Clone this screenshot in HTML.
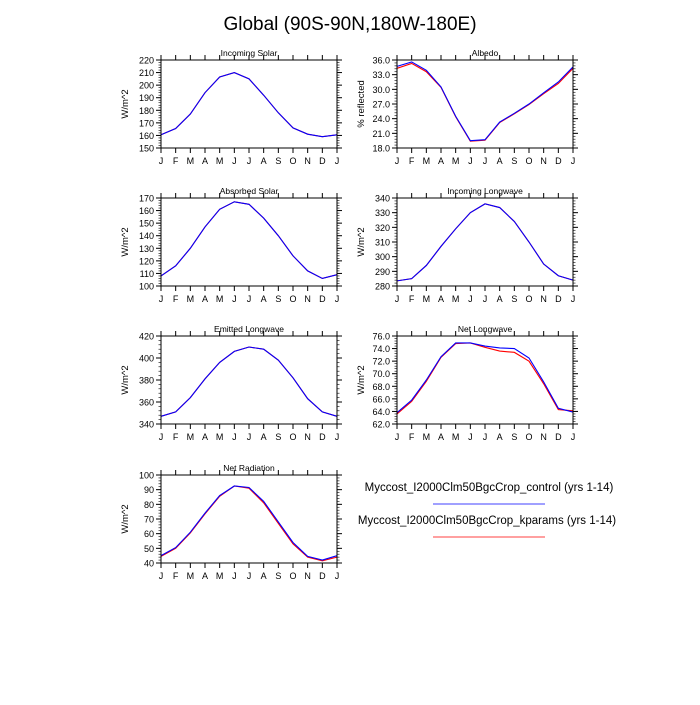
<!DOCTYPE html>
<html><head><style>body{margin:0;background:#fff}svg{font-family:"Liberation Sans",sans-serif}</style></head>
<body>
<svg id="s" width="700" height="700" xmlns="http://www.w3.org/2000/svg">
<rect width="700" height="700" fill="#fff"/>
<text x="350" y="30" font-size="19" text-anchor="middle">Global (90S-90N,180W-180E)</text>
<text x="489" y="491" font-size="11.5" text-anchor="middle">Myccost_I2000Clm50BgcCrop_control (yrs 1-14)</text>
<line x1="433" x2="545" y1="504" y2="504" stroke="#00f" stroke-width="0.8"/>
<text x="487" y="524" font-size="11.5" text-anchor="middle">Myccost_I2000Clm50BgcCrop_kparams (yrs 1-14)</text>
<line x1="433" x2="545" y1="537" y2="537" stroke="#f00" stroke-width="0.8"/>
</svg>
<script>
const P=[
{x:161,y:60,t:"Incoming Solar",yl:"W/m^2",min:150,max:220,step:10,minor:2,dec:0,
 b:[160.5,165.5,177,194,206.5,210,205,192,178,166,161,159,160.5]},
{x:397,y:60,t:"Albedo",yl:"% reflected",min:18,max:36,step:3,minor:0.6,dec:1,
 b:[34.7,35.6,33.9,30.5,24.5,19.5,19.7,23.3,25.1,27,29.3,31.5,34.6],
 r:[34.3,35.3,33.6,30.4,24.4,19.4,19.6,23.2,25,26.9,29.1,31.2,34.3]},
{x:161,y:198,t:"Absorbed Solar",yl:"W/m^2",min:100,max:170,step:10,minor:2,dec:0,
 b:[108,116,130,147,161,167,165,154,140,124,112,106,109]},
{x:397,y:198,t:"Incoming Longwave",yl:"W/m^2",min:280,max:340,step:10,minor:2,dec:0,
 b:[283.5,285,294,307,319,330,336,333.5,324,310,295,287,284]},
{x:161,y:336,t:"Emitted Longwave",yl:"W/m^2",min:340,max:420,step:20,minor:4,dec:0,
 b:[347,351,364,381,396,406,410,408,398,382,363,351,347]},
{x:397,y:336,t:"Net Longwave",yl:"W/m^2",min:62,max:76,step:2,minor:0.4,dec:1,
 b:[63.8,65.8,69,72.7,74.9,74.9,74.4,74.1,74,72.5,68.7,64.5,63.9],
 r:[63.6,65.6,68.8,72.6,74.8,74.9,74.2,73.6,73.4,72,68.4,64.3,64.1]},
{x:161,y:475,t:"Net Radiation",yl:"W/m^2",min:40,max:100,step:10,minor:2,dec:0,
 b:[45,50.5,61,74,86,92.5,91.5,82,68,54,44.5,42,45],
 r:[44.5,50,60.5,73.5,85.5,92.5,91,81,67,53,44,41.5,44]}];
const W=176,H=88,M="JFMAMJJASONDJ";let s="";
for(const p of P){
 const X=i=>p.x+i*W/12,Y=v=>p.y+H-(v-p.min)/(p.max-p.min)*H;
 s+=`<text x="${p.x+W/2}" y="${p.y-4}" font-size="8.5" text-anchor="middle">${p.t}</text>`;
 s+=`<text transform="translate(${p.x-33},${p.y+H/2}) rotate(-90)" font-size="9.5" text-anchor="middle">${p.yl}</text>`;
 for(let i=0;i<=12;i++){const x=X(i);
  s+=`<line x1="${x}" x2="${x}" y1="${p.y-5}" y2="${p.y}" stroke="#000"/><line x1="${x}" x2="${x}" y1="${p.y+H}" y2="${p.y+H+5}" stroke="#000"/>`;
  s+=`<text x="${x}" y="${p.y+H+16}" font-size="9" text-anchor="middle">${M[i]}</text>`;}
 for(let v=p.min;v<=p.max+1e-6;v+=p.minor){const y=Y(v);
  s+=`<line x1="${p.x-2.5}" x2="${p.x}" y1="${y}" y2="${y}" stroke="#000" stroke-width="0.6"/><line x1="${p.x+W}" x2="${p.x+W+2.5}" y1="${y}" y2="${y}" stroke="#000" stroke-width="0.6"/>`;}
 for(let v=p.min;v<=p.max+1e-6;v+=p.step){const y=Y(v);
  s+=`<line x1="${p.x-5}" x2="${p.x}" y1="${y}" y2="${y}" stroke="#000"/><line x1="${p.x+W}" x2="${p.x+W+5}" y1="${y}" y2="${y}" stroke="#000"/>`;
  s+=`<text x="${p.x-7}" y="${y+3.5}" font-size="9" text-anchor="end">${v.toFixed(p.dec)}</text>`;}
 const pl=(d,c)=>`<polyline fill="none" stroke="${c}" stroke-width="1.1" points="${d.map((v,i)=>X(i)+","+Y(v)).join(" ")}"/>`;
 s+=pl(p.r||p.b,"#f00")+pl(p.b,"#00f");
 s+=`<rect x="${p.x}" y="${p.y}" width="${W}" height="${H}" fill="none" stroke="#000" stroke-width="1"/>`;
}
document.getElementById("s").insertAdjacentHTML("beforeend",s);
</script>
</body></html>
